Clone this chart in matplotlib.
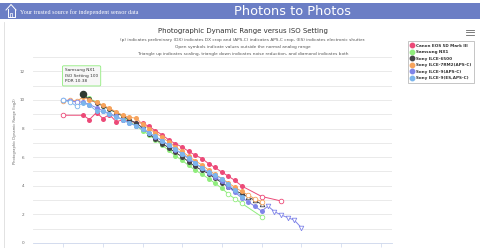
import matplotlib
matplotlib.use("Agg")
import matplotlib.pyplot as plt
from matplotlib.lines import Line2D
from matplotlib.patches import Rectangle
import numpy as np

plt.rcParams['font.family'] = ['DejaVu Sans']

# ---- data ----
# kind: f = filled, o = open circle, ^ = open triangle up, v = open triangle down
canon_iso = [50, 100, 125, 160, 200, 250, 320, 400, 500, 640, 800, 1000, 1250, 1600, 2000,
             2500, 3200, 4000, 5000, 6400, 8000, 10000, 12800, 16000, 20000, 25600, 51200, 102400]
canon_pdr = [8.93, 8.93, 8.63, 9.12, 8.70, 8.98, 8.47, 8.62, 8.50, 8.42, 8.37, 8.15, 7.85, 7.55, 7.20,
             6.95, 6.70, 6.40, 6.15, 5.90, 5.55, 5.28, 4.95, 4.67, 4.38, 3.98, 3.25, 2.93]
canon_kind = "o" + "f" * 25 + "oo"

nx1_iso = [100, 125, 160, 200, 250, 320, 400, 500, 640, 800, 1000, 1250, 1600, 2000, 2500,
           3200, 4000, 5000, 6400, 8000, 10000, 12800, 16000, 20000, 25600, 51200]
nx1_pdr = [10.38, 10.10, 9.85, 9.60, 9.35, 9.10, 8.85, 8.50, 8.20, 7.85, 7.55, 7.22, 6.82, 6.47, 6.10,
           5.77, 5.42, 5.10, 4.80, 4.50, 4.18, 3.82, 3.42, 3.10, 2.77, 1.84]
nx1_kind = "f" * 22 + "oooo"

a6500_iso = [100, 125, 160, 200, 250, 320, 400, 500, 640, 800, 1000, 1250, 1600, 2000, 2500,
             3200, 4000, 5000, 6400, 8000, 10000, 12800, 16000, 20000, 25600, 32000, 40000, 51200]
a6500_pdr = [10.35, 10.03, 9.80, 9.58, 9.35, 9.12, 8.88, 8.62, 8.38, 8.05, 7.65, 7.25, 6.95, 6.65, 6.33,
             6.02, 5.68, 5.35, 5.08, 4.85, 4.52, 4.22, 3.92, 3.67, 3.45, 3.20, 3.00, 2.70]
a6500_kind = "f" * 25 + "^^^"

a7rm2_iso = [50, 64, 80, 100, 125, 160, 200, 250, 320, 400, 500, 640, 800, 1000, 1250, 1600, 2000,
             2500, 3200, 4000, 5000, 6400, 8000, 10000, 12800, 16000, 20000, 25600, 32000, 40000, 51200]
a7rm2_pdr = [9.92, 10.00, 9.90, 10.20, 10.00, 9.84, 9.63, 9.42, 9.16, 8.93, 8.79, 8.72, 8.30, 8.00, 7.70,
             7.38, 7.05, 6.72, 6.40, 6.05, 5.75, 5.45, 5.10, 4.80, 4.50, 4.20, 3.90, 3.60, 3.35, 3.10, 2.90]
a7rm2_kind = "ooo" + "f" * 25 + "ooo"

a9_iso = [50, 64, 80, 100, 125, 160, 200, 250, 320, 400, 500, 640, 800, 1000, 1250, 1600, 2000,
          2500, 3200, 4000, 5000, 6400, 8000, 10000, 12800, 16000, 20000, 25600, 32000, 40000, 51200,
          64000, 80000, 102400, 128000, 160000, 204800]
a9_pdr = [10.00, 9.95, 9.85, 9.85, 9.68, 9.45, 9.25, 9.05, 8.85, 8.62, 8.40, 8.20, 7.95, 7.70, 7.42,
          7.12, 6.83, 6.52, 6.22, 5.90, 5.57, 5.22, 4.92, 4.62, 4.30, 3.92, 3.55, 3.15, 2.88, 2.58, 2.23,
          2.58, 2.19, 1.95, 1.77, 1.60, 1.07]
a9_kind = "ooo" + "f" * 28 + "vvvvvv"

a9es_iso = [50, 64, 80, 100, 125, 160, 200, 250, 320, 400, 500, 640, 800, 1000, 1250, 1600, 2000,
            2500, 3200, 4000, 5000, 6400, 8000, 10000, 12800, 16000, 20000, 25600]
a9es_pdr = [9.98, 9.86, 9.55, 9.79, 9.63, 9.23, 9.20, 9.00, 8.80, 8.60, 8.37, 8.20, 7.95, 7.72, 7.45,
            7.15, 6.85, 6.55, 6.25, 5.93, 5.60, 5.25, 4.95, 4.72, 4.50, 4.10, 3.70, 3.23]
a9es_kind = "ooo" + "f" * 25

names = ["Canon EOS 5D Mark III", "Samsung NX1", "Sony ILCE-6500",
         "Sony ILCE-7RM2(APS-C)", "Sony ILCE-9(APS-C)", "Sony ILCE-9(ES,APS-C)"]
colors = ["#ec4a78", "#90ed7d", "#434348", "#f7a35c", "#8085e9", "#7cb5ec"]
series = [(canon_iso, canon_pdr, canon_kind), (nx1_iso, nx1_pdr, nx1_kind),
          (a6500_iso, a6500_pdr, a6500_kind), (a7rm2_iso, a7rm2_pdr, a7rm2_kind),
          (a9_iso, a9_pdr, a9_kind), (a9es_iso, a9es_pdr, a9es_kind)]
x_ticks = [50, 200, 800, 3200, 12800, 51200, 204800, 819200, 3276800]

W, H = 480, 248
fig = plt.figure(figsize=(W / 100, H / 100), dpi=100)

# overlay in pixel coords for page decoration
ov = fig.add_axes([0, 0, 1, 1])
ov.set_xlim(0, W)
ov.set_ylim(H, 0)
ov.axis('off')
ov.add_patch(Rectangle((0, 2.7), W, 16.6, color="#6b7ec5", lw=0))
ov.plot([6, 11, 16], [10, 4.5, 10], color="white", lw=0.7)
ov.plot([7.5, 7.5, 14.5, 14.5], [9, 16.5, 16.5, 9], color="white", lw=0.7)
ov.plot([10, 10, 12, 12], [16.5, 12.5, 12.5, 16.5], color="white", lw=0.5)
ov.text(20, 12, "Your trusted source for independent sensor data", color="white",
        fontsize=4.4, family="Liberation Serif", va="center", ha="left")
ov.text(292, 11.5, "Photons to Photos", color="white", fontsize=9.3, va="center", ha="center")
ov.plot([4, 4], [22, H], color="#dddddd", lw=0.6)
for yy in (30, 32.3, 34.6):
    ov.plot([466, 474], [yy, yy], color="#666666", lw=0.6)
ov.text(243, 31, "Photographic Dynamic Range versus ISO Setting", fontsize=5.0,
        color="#333333", ha="center", va="center")
subs = ["(p) indicates preliminary (DX) indicates DX crop and (APS-C) indicates APS-C crop, (ES) indicates electronic shutter.",
        "Open symbols indicate values outside the normal analog range",
        "Triangle up indicates scaling, triangle down indicates noise reduction, and diamond indicates both"]
for i, s in enumerate(subs):
    ov.text(243, 40.5 + 6.6 * i, s, fontsize=3.1, color="#555555", ha="center", va="center")
ov.text(15, 131, "Photographic Dynamic Range (log2)", fontsize=2.6, color="#666666",
        rotation=90, ha="center", va="center")

# main chart
ax = fig.add_axes([33 / W, 5 / H, 359 / W, 186 / H])
ax.set_xscale('log', base=2)
ax.set_xlim(17.4, 4.86e6)
ax.set_ylim(0, 13)
ax.set_yticks(range(0, 14, 2))
ax.set_yticks(range(1, 14, 2), minor=True)
ax.set_xticks(x_ticks)
ax.set_xticks([], minor=True)
ax.set_xticklabels([])
ax.tick_params(axis='y', which='both', length=0, labelsize=3, labelcolor="#666666", pad=6)
ax.tick_params(axis='x', length=3, width=0.5, color="#ccd6eb")
ax.grid(axis='y', which='both', color="#e6e6e6", lw=0.6)
for sp in ("top", "right", "left"):
    ax.spines[sp].set_visible(False)
ax.spines["bottom"].set_color("#ccd6eb")
ax.spines["bottom"].set_linewidth(0.6)
ax.set_axisbelow(True)

mk = {"f": "o", "o": "o", "^": "^", "v": "v"}
for z, ((iso, pdr, kind), c) in enumerate(zip(series, colors)):
    iso = np.array(iso)
    pdr = np.array(pdr)
    ax.plot(iso, pdr, color=c, lw=0.7, zorder=3 + z)
    for k in set(kind):
        sel = np.array([ch == k for ch in kind])
        if k == "f":
            ax.plot(iso[sel], pdr[sel], ls="none", marker="o", ms=3.6, mfc=c, mec=c,
                    mew=0, zorder=3 + z)
        else:
            ax.plot(iso[sel], pdr[sel], ls="none", marker=mk[k], ms=3.3, mfc="white",
                    mec=c, mew=0.6, zorder=3 + z)

# hovered point + tooltip
ax.plot([100], [10.38], ls="none", marker="o", ms=4.4, mfc="#2f3a30", mec="#2f3a30", zorder=20)
ax.annotate("Samsung NX1\nISO Setting 100\nPDR 10.38", xy=(100, 10.38), xytext=(-13, 8),
            textcoords="offset points", fontsize=3.1, color="#333333", ha="left", va="bottom",
            linespacing=1.5,
            bbox=dict(boxstyle="round,pad=0.6,rounding_size=0.3", fc="#f7f7f7", ec="#90ed7d", lw=0.6),
            zorder=21)

handles = [Line2D([], [], color=c, marker="o", ms=3.2, lw=0) for c in colors]
leg = ax.legend(handles, names, loc="upper left", bbox_to_anchor=(406 / W, 1 - 39 / H),
                bbox_transform=fig.transFigure, prop={"weight": "bold", "size": 3},
                frameon=True, fancybox=False, edgecolor="#999999", labelspacing=0.6,
                handlelength=0.8, handletextpad=0.6, borderpad=0.6)
leg.get_frame().set_linewidth(0.5)
for t in leg.get_texts():
    t.set_color("#333333")

fig.savefig("out.png", dpi=100)
